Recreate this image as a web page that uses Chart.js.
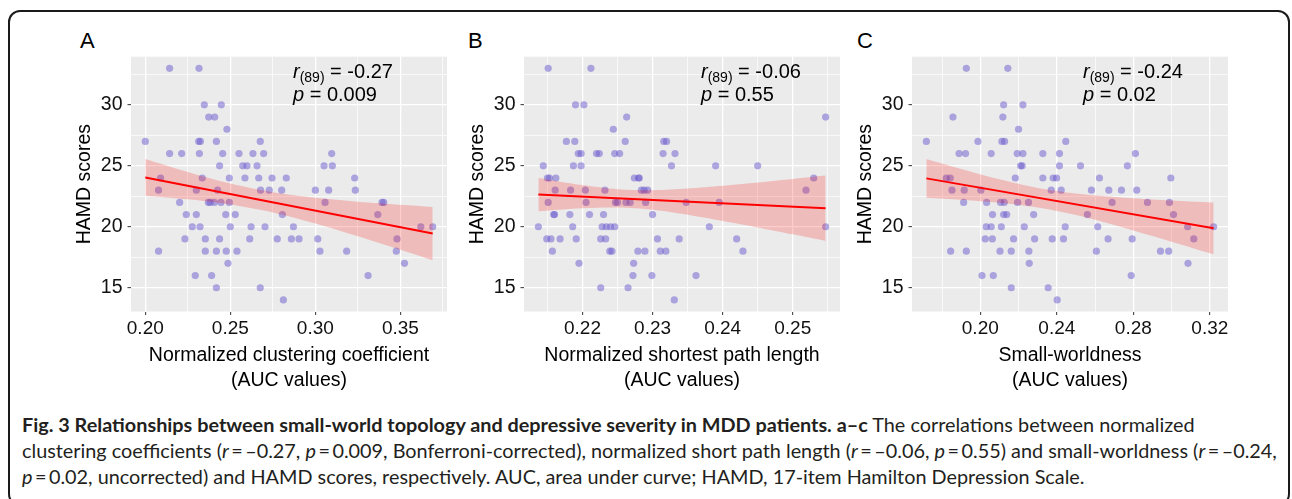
<!DOCTYPE html>
<html>
<head>
<meta charset="utf-8">
<script src="https://cdn.jsdelivr.net/npm/chart.js@4.4.1/dist/chart.umd.min.js"></script>
<style>
body { margin:0; width:1292px; height:499px; background:#fff; position:relative; overflow:hidden; font-family:"Liberation Sans", Arial, sans-serif; }
#frame { position:absolute; left:8px; top:10px; width:1278px; height:492px; border:2px solid #1a1a1a; border-radius:12px; }
canvas.panel { position:absolute; top:40px; }
.letter { position:absolute; top:28px; font-size:22px; color:#000; }
.cap { position:absolute; left:22px; font-family:Lato, "Open Sans", sans-serif; font-size:17px; line-height:26px; white-space:nowrap; color:#231f20; }
</style>
</head>
<body>
<div id="frame"></div>
<div class="letter" style="left:80px">A</div>
<div class="letter" style="left:468px">B</div>
<div class="letter" style="left:857px">C</div>
<canvas class="panel" id="chartA" width="400" height="360" style="left:60px;width:400px;height:360px"></canvas>
<canvas class="panel" id="chartB" width="400" height="360" style="left:453px;width:400px;height:360px"></canvas>
<canvas class="panel" id="chartC" width="400" height="360" style="left:841px;width:400px;height:360px"></canvas>
<div class="cap" id="cap1" style="top:411px"><b>Fig. 3 Relationships between small-world topology and depressive severity in MDD patients. a–c</b> The correlations between normalized</div>
<div class="cap" id="cap2" style="top:437px">clustering coefficients (<i>r</i>&thinsp;=&thinsp;–0.27, <i>p</i>&thinsp;=&thinsp;0.009, Bonferroni-corrected), normalized short path length (<i>r</i>&thinsp;=&thinsp;–0.06, <i>p</i>&thinsp;=&thinsp;0.55) and small-worldness (<i>r</i>&thinsp;=&thinsp;–0.24,</div>
<div class="cap" id="cap3" style="top:463px"><i>p</i>&thinsp;=&thinsp;0.02, uncorrected) and HAMD scores, respectively. AUC, area under curve; HAMD, 17-item Hamilton Depression Scale.</div>
<script>
// HAMD scores vs. AUC values
const yMajor = [15, 20, 25, 30];
const yMinor = [17.5, 22.5, 27.5, 32.5];

// A: normalized clustering coefficient
const aX = [0.2143,0.2316, 0.2347,0.2447, 0.2373,0.2408, 0.2480,
  0.2000,0.2314,0.2324,0.2418,0.2676,
  0.2143,0.2214,0.2318,0.2455,0.2551,0.2633,0.2696,0.3096,
  0.2437,0.2573,0.2598,0.2657,0.3051,0.3100,
  0.2090,0.2335,0.2494,0.2586,0.2667,0.2745,0.2829,0.3231,
  0.2078,0.2300,0.2425,0.2678,0.2729,0.2802,0.3000,0.3078,0.3235,
  0.2202,0.2371,0.2382,0.2406,0.2445,0.2494,0.3057,0.3392,0.3402,
  0.2241,0.2300,0.2473,0.2529,0.2806,0.3367,
  0.2276,0.2322,0.2500,0.2622,0.2704,0.2871,0.3620,0.3690,
  0.2233,0.2353,0.2437,0.2614,0.2776,0.2859,0.2904,0.3014,0.3480,
  0.2078,0.2353,0.2418,0.2476,0.2539,0.3027,0.3184,0.3476,
  0.2486,0.3524, 0.2294,0.2390,0.3310, 0.2418,0.2676, 0.2812];
const aY = [33,33, 30,30, 29,29, 28,
  27,27,27,27,27,
  26,26,26,26,26,26,26,26,
  25,25,25,25,25,25,
  24,24,24,24,24,24,24,24,
  23,23,23,23,23,23,23,23,23,
  22,22,22,22,22,22,22,22,22,
  21,21,21,21,21,21,
  20,20,20,20,20,20,20,20,
  19,19,19,19,19,19,19,19,19,
  18,18,18,18,18,18,18,18,
  17,17, 16,16,16, 15,15, 14];
const aFitX = [0.2000, 0.3690];
const aFitY = [24.05, 19.44];
const aBandX = [0.200, 0.225, 0.250, 0.275, 0.300, 0.325, 0.350, 0.369];
const aBandHi = [25.56, 24.49, 23.54, 22.83, 22.38, 22.06, 21.81, 21.63];
const aBandLo = [22.55, 22.25, 21.83, 21.18, 20.27, 19.22, 18.11, 17.25];
const aTicks = [0.20, 0.25, 0.30, 0.35];
const aMinor = [0.225, 0.275, 0.325, 0.375];

// B: normalized shortest path length
const bX = [0.2151,0.2212, 0.2190,0.2202, 0.2263,0.2547, 0.2244,
  0.2177,0.2189,0.2261,0.2316,0.2320,
  0.2194,0.2198,0.2220,0.2224,0.2246,0.2253,0.2315,0.2332,
  0.2144,0.2187,0.2198,0.2327,0.2390,0.2450,
  0.2150,0.2153,0.2162,0.2274,0.2280,0.2281,0.2530,
  0.2161,0.2183,0.2204,0.2232,0.2284,0.2288,0.2293,0.2519,
  0.2151,0.2205,0.2247,0.2250,0.2262,0.2268,0.2290,0.2348,0.2395,
  0.2159,0.2160,0.2182,0.2210,0.2230,0.2300,
  0.2137,0.2186,0.2228,0.2234,0.2240,0.2246,0.2381,0.2547,
  0.2149,0.2155,0.2168,0.2191,0.2226,0.2233,0.2307,0.2338,0.2420,
  0.2157,0.2239,0.2242,0.2279,0.2289,0.2311,0.2319,0.2429,
  0.2195,0.2273, 0.2272,0.2299,0.2362, 0.2226,0.2265, 0.2331];
const bY = [33,33, 30,30, 29,29, 28,
  27,27,27,27,27,
  26,26,26,26,26,26,26,26,
  25,25,25,25,25,25,
  24,24,24,24,24,24,24,
  23,23,23,23,23,23,23,23,
  22,22,22,22,22,22,22,22,22,
  21,21,21,21,21,21,
  20,20,20,20,20,20,20,20,
  19,19,19,19,19,19,19,19,19,
  18,18,18,18,18,18,18,18,
  17,17, 16,16,16, 15,15, 14];
const bFitX = [0.2137, 0.2547];
const bFitY = [22.64, 21.52];
const bBandX = [0.2137, 0.220, 0.225, 0.230, 0.235, 0.240, 0.245, 0.250, 0.2547];
const bBandHi = [24.01, 23.42, 23.08, 23.00, 23.13, 23.36, 23.63, 23.92, 24.20];
const bBandLo = [21.27, 21.52, 21.58, 21.40, 20.99, 20.48, 19.95, 19.38, 18.84];
const bTicks = [0.22, 0.23, 0.24, 0.25];
const bMinor = [0.215, 0.225, 0.235, 0.245, 0.255];

// C: small-worldness
const cX = [0.1927,0.2144, 0.2122,0.2223, 0.1857,0.2118, 0.2200,
  0.1718,0.1988,0.2113,0.2127,0.2447,
  0.1889,0.1923,0.2057,0.2193,0.2223,0.2327,0.2414,0.2811,
  0.2211,0.2219,0.2414,0.2524,0.2769,
  0.1822,0.1843,0.2183,0.2327,0.2381,0.2399,0.2623,0.2996,
  0.1852,0.1916,0.2003,0.2371,0.2423,0.2581,0.2672,0.2738,0.2818,
  0.1913,0.2033,0.2106,0.2125,0.2195,0.2252,0.2689,0.2874,0.2989,
  0.2064,0.2122,0.2138,0.2279,0.2560,0.3010,
  0.2031,0.2057,0.2110,0.2230,0.2444,0.2614,0.3084,0.3220,
  0.2026,0.2063,0.2174,0.2284,0.2376,0.2435,0.2668,0.2794,0.3116,
  0.1845,0.1927,0.2103,0.2162,0.2254,0.2607,0.2942,0.2985,
  0.2256,0.3086, 0.2009,0.2068,0.2789, 0.2162,0.2355, 0.2402];
const cY = [33,33, 30,30, 29,29, 28,
  27,27,27,27,27,
  26,26,26,26,26,26,26,26,
  25,25,25,25,25,
  24,24,24,24,24,24,24,24,
  23,23,23,23,23,23,23,23,23,
  22,22,22,22,22,22,22,22,22,
  21,21,21,21,21,21,
  20,20,20,20,20,20,20,20,
  19,19,19,19,19,19,19,19,19,
  18,18,18,18,18,18,18,18,
  17,17, 16,16,16, 15,15, 14];
const cFitX = [0.1718, 0.3220];
const cFitY = [23.97, 19.87];
const cBandX = [0.1718, 0.19, 0.21, 0.23, 0.25, 0.27, 0.29, 0.31, 0.3220];
const cBandHi = [25.56, 24.74, 23.89, 23.18, 22.72, 22.44, 22.24, 22.08, 22.00];
const cBandLo = [22.38, 22.22, 21.97, 21.58, 20.96, 20.15, 19.24, 18.30, 17.74];
const cTicks = [0.20, 0.24, 0.28, 0.32];
const cMinor = [0.18, 0.22, 0.26, 0.30];

const FONT = '"Liberation Sans", Arial, sans-serif';

function pairs(xs, ys) {
    return xs.map((x, i) => ({x: x, y: ys[i]}));
}

function isMajor(v, majors) {
    return majors.some(m => Math.abs(m - v) < 1e-6);
}

const panelBg = {
    id: 'panelBg',
    beforeDraw(chart) {
        const a = chart.chartArea;
        const ctx = chart.ctx;
        ctx.save();
        ctx.fillStyle = '#ebebeb';
        ctx.fillRect(a.left, a.top, a.right - a.left, a.bottom - a.top);
        ctx.restore();
    }
};

const statText = {
    id: 'statText',
    afterDraw(chart, args, opts) {
        const ctx = chart.ctx;
        const a = chart.chartArea;
        ctx.save();
        ctx.fillStyle = '#000';
        ctx.textBaseline = 'middle';
        let x = a.left + opts.dx;
        let y = a.top + 16;
        ctx.font = 'italic 20px ' + FONT;
        ctx.fillText('r', x, y);
        x += ctx.measureText('r').width;
        ctx.font = '14px ' + FONT;
        ctx.fillText('(89)', x, y + 5);
        x += ctx.measureText('(89)').width;
        ctx.font = '20px ' + FONT;
        ctx.fillText(' = ' + opts.r, x, y);
        x = a.left + opts.dx;
        y = a.top + 39;
        ctx.font = 'italic 20px ' + FONT;
        ctx.fillText('p', x, y);
        x += ctx.measureText('p').width;
        ctx.font = '20px ' + FONT;
        ctx.fillText(' = ' + opts.p, x, y);
        ctx.restore();
    }
};

function makePanel(id, xs, ys, fitX, fitY, bandX, bandHi, bandLo, ticks, minor, xMin, xMax, xTitle, r, p, dx) {
    const xAll = ticks.concat(minor).sort((u, v) => u - v);
    const yAll = yMajor.concat(yMinor).sort((u, v) => u - v);
    new Chart(document.getElementById(id), {
        type: 'line',
        data: {
            datasets: [
                { data: pairs(fitX, fitY), borderColor: '#ff0000', borderWidth: 2, pointRadius: 0, fill: false },
                { data: pairs(bandX, bandHi), borderWidth: 0, borderColor: 'rgba(0,0,0,0)', pointRadius: 0, tension: 0.3, fill: false },
                { data: pairs(bandX, bandLo), borderWidth: 0, borderColor: 'rgba(0,0,0,0)', pointRadius: 0, tension: 0.3,
                  fill: '-1', backgroundColor: 'rgba(255,0,0,0.2)' },
                { data: pairs(xs, ys), showLine: false, pointRadius: 3.6, pointBorderWidth: 0,
                  pointBackgroundColor: 'rgba(106,90,205,0.5)', pointBorderColor: 'rgba(0,0,0,0)' }
            ]
        },
        options: {
            responsive: false,
            animation: false,
            devicePixelRatio: 1,
            layout: { padding: { left: 0, top: 11, right: 400 - 387, bottom: 0 } },
            plugins: {
                legend: { display: false },
                tooltip: { enabled: false },
                statText: { r: r, p: p, dx: dx }
            },
            scales: {
                x: {
                    type: 'linear',
                    min: xMin,
                    max: xMax,
                    afterBuildTicks: s => { s.ticks = xAll.filter(v => v >= xMin && v <= xMax).map(v => ({value: v})); },
                    afterFit: s => { s.height = 88.5; },
                    border: { display: false },
                    grid: {
                        color: '#ffffff',
                        lineWidth: c => isMajor(c.tick.value, ticks) ? 1.3 : 0.7,
                        tickColor: c => isMajor(c.tick.value, ticks) ? '#333333' : 'rgba(0,0,0,0)',
                        tickLength: 3.5,
                        tickWidth: 1
                    },
                    ticks: {
                        autoSkip: false,
                        maxRotation: 0,
                        padding: 2.6,
                        color: '#111111',
                        font: { family: FONT, size: 19 },
                        callback: v => isMajor(v, ticks) ? v.toFixed(2) : ''
                    },
                    title: {
                        display: true,
                        text: [xTitle, '(AUC values)'],
                        color: '#000',
                        font: { family: FONT, size: 19.5, lineHeight: 25 / 19.5 },
                        padding: { top: 0, bottom: 6.5 }
                    }
                },
                y: {
                    type: 'linear',
                    min: 13.05,
                    max: 33.95,
                    afterBuildTicks: s => { s.ticks = yAll.filter(v => v >= 13.05 && v <= 33.95).map(v => ({value: v})); },
                    afterFit: s => { s.width = 71; },
                    border: { display: false },
                    grid: {
                        color: '#ffffff',
                        lineWidth: c => isMajor(c.tick.value, yMajor) ? 1.3 : 0.7,
                        tickColor: c => isMajor(c.tick.value, yMajor) ? '#333333' : 'rgba(0,0,0,0)',
                        tickLength: 3.5,
                        tickWidth: 1
                    },
                    ticks: {
                        autoSkip: false,
                        padding: 5,
                        color: '#111111',
                        font: { family: FONT, size: 19.5 },
                        callback: v => isMajor(v, yMajor) ? String(v) : ''
                    },
                    title: {
                        display: true,
                        text: 'HAMD scores',
                        color: '#000',
                        font: { family: FONT, size: 19.5 },
                        padding: { top: 13.3, bottom: 0 }
                    }
                }
            }
        },
        plugins: [panelBg, statText]
    });
}

makePanel('chartA', aX, aY, aFitX, aFitY, aBandX, aBandHi, aBandLo, aTicks, aMinor, 0.1916, 0.3774,
    'Normalized clustering coefficient', '-0.27', '0.009', 162);
makePanel('chartB', bX, bY, bFitX, bFitY, bBandX, bBandHi, bBandLo, bTicks, bMinor, 0.21165, 0.25675,
    'Normalized shortest path length', '-0.06', '0.55', 177);
makePanel('chartC', cX, cY, cFitX, cFitY, cBandX, cBandHi, cBandLo, cTicks, cMinor, 0.1643, 0.3295,
    'Small-worldness', '-0.24', '0.02', 171);

// fit caption font size so the long middle line spans the frame like the original
function fitCaption() {
    const line = document.getElementById('cap2');
    const w = line.getBoundingClientRect().width;
    const size = 17 * 1255 / w;
    document.querySelectorAll('.cap').forEach(el => { el.style.fontSize = size.toFixed(2) + 'px'; });
}
if (document.fonts && document.fonts.ready) {
    document.fonts.ready.then(fitCaption);
} else {
    fitCaption();
}
</script>
</body>
</html>
